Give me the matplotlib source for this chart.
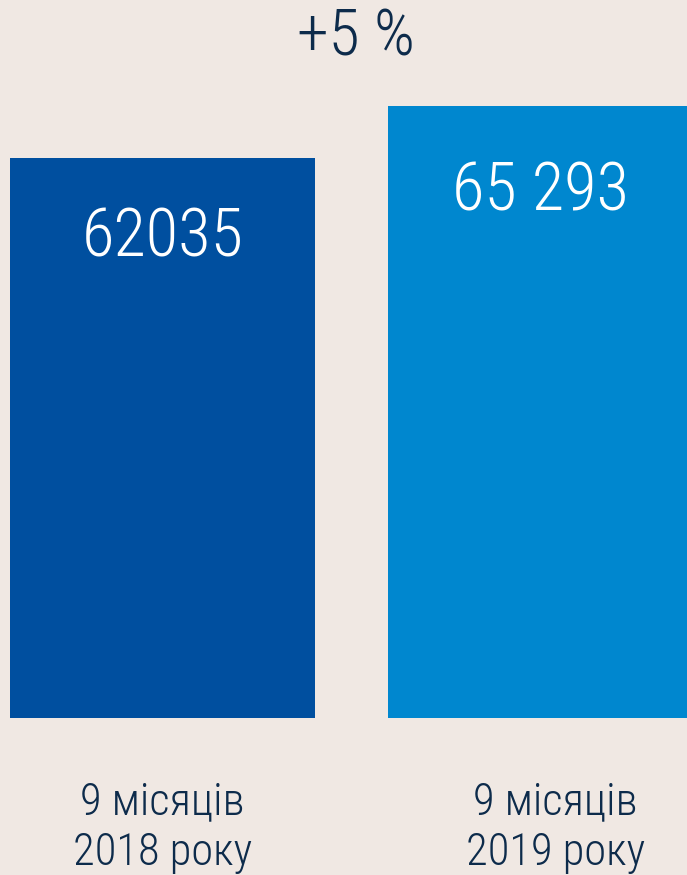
import matplotlib
matplotlib.use("Agg")
import matplotlib.pyplot as plt

periods = ["9 місяців\n2018 року", "9 місяців\n2019 року"]
values = [62035, 65293]
value_labels = ["62035", "65 293"]
change_label = "+5 %"

bg = "#f0e8e3"
bar_colors = ["#004f9f", "#0087cf"]
text_dark = "#0d2b4b"
fonts = ["Roboto Condensed", "Liberation Sans Narrow", "DejaVu Sans"]

fig = plt.figure(figsize=(6.87, 8.75), dpi=100, facecolor=bg)
# axes runs from the bar baseline to the top of the figure
ax = fig.add_axes([0, 157 / 875, 1, 718 / 875])
ax.set_facecolor(bg)

x = [0, 1]
ax.bar(x, values, width=0.807, color=bar_colors, clip_on=True)
ax.set_xlim(-0.43, 1.388)
ax.set_ylim(26947, 71934)
ax.axis("off")

for xi, v, lab, dy in zip(x, values, value_labels, [-58, -62]):
    ax.annotate(lab, (xi, v), xytext=(0, dy), textcoords="offset points",
                ha="center", va="center", color="white", fontsize=48,
                family=fonts, weight="light")

# category labels below the baseline
for xi, lab, dx in zip(x, periods, [0, 0.04]):
    ax.annotate(lab, (xi + dx, 26947), xytext=(0, -79), textcoords="offset points",
                ha="center", va="center", color=text_dark, fontsize=32,
                family=fonts, weight="light", linespacing=1.25, annotation_clip=False)

fig.text(356 / 687, 1 - 37 / 875, change_label, ha="center", va="center",
         color=text_dark, fontsize=46, family=fonts, weight="light")

fig.savefig("out.png", dpi=100, facecolor=bg)
